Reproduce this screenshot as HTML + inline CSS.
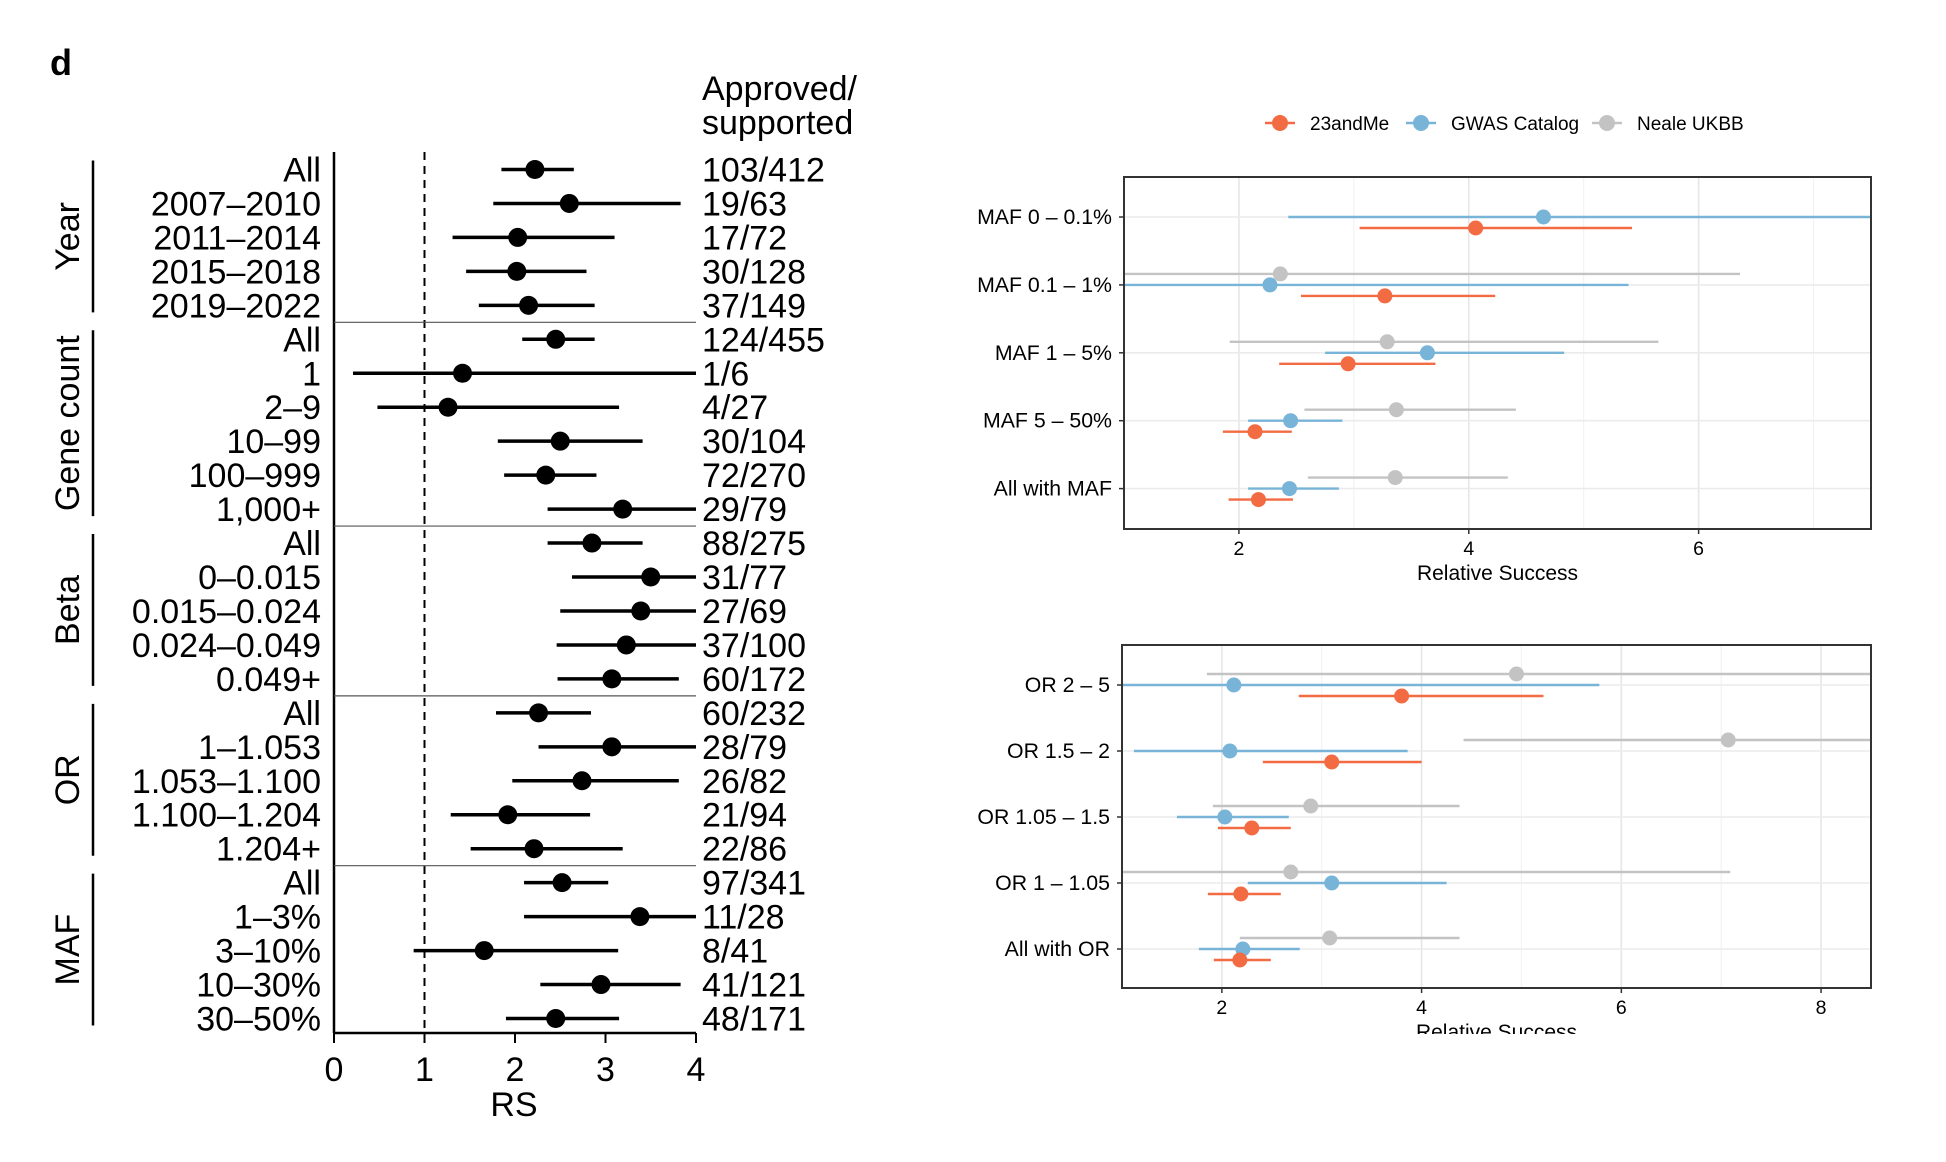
<!DOCTYPE html>
<html><head><meta charset="utf-8"><style>
html,body{margin:0;padding:0;background:#fff;}
svg{display:block;font-family:"Liberation Sans",Arial,sans-serif;}
</style></head><body>
<svg id="fig" width="1946" height="1162" viewBox="0 0 1946 1162" xmlns="http://www.w3.org/2000/svg">
<text x="50" y="75" font-size="36" font-weight="bold">d</text>
<g id="left"></g>
<g id="legend"></g>
<g id="top"></g>
<g id="bot"></g>
</svg>
<script>
// ---------- Left forest plot data ----------
const leftLabels = ["All","2007–2010","2011–2014","2015–2018","2019–2022","All","1","2–9","10–99","100–999","1,000+","All","0–0.015","0.015–0.024","0.024–0.049","0.049+","All","1–1.053","1.053–1.100","1.100–1.204","1.204+","All","1–3%","3–10%","10–30%","30–50%"];
const leftCounts = ["103/412","19/63","17/72","30/128","37/149","124/455","1/6","4/27","30/104","72/270","29/79","88/275","31/77","27/69","37/100","60/172","60/232","28/79","26/82","21/94","22/86","97/341","11/28","8/41","41/121","48/171"];
const leftRS = [2.22,2.6,2.03,2.02,2.15,2.45,1.42,1.26,2.5,2.34,3.19,2.85,3.5,3.39,3.23,3.07,2.26,3.07,2.74,1.92,2.21,2.52,3.38,1.66,2.95,2.45];
const leftLo = [1.85,1.76,1.31,1.46,1.6,2.08,0.21,0.48,1.81,1.88,2.36,2.36,2.63,2.5,2.46,2.47,1.79,2.26,1.97,1.29,1.51,2.1,2.1,0.88,2.28,1.9];
const leftHi = [2.65,3.83,3.1,2.79,2.88,2.88,4.5,3.15,3.41,2.9,4.5,3.41,4.5,4.5,4.5,3.81,2.84,4.5,3.81,2.83,3.19,3.03,4.5,3.14,3.83,3.15];
const groupNames = ["Year","Gene count","Beta","OR","MAF"];
const groupStarts = [0,5,11,16,21];
const groupEnds = [4,10,15,20,25];
const leftTicks = [0,1,2,3,4];

// ---------- Right panel data ----------
const series = ["23andMe","GWAS Catalog","Neale UKBB"];
const mafCats = ["MAF 0 – 0.1%","MAF 0.1 – 1%","MAF 1 – 5%","MAF 5 – 50%","All with MAF"];
const maf23 = [4.06,3.27,2.95,2.14,2.17];
const maf23Lo = [3.05,2.54,2.35,1.86,1.91];
const maf23Hi = [5.42,4.23,3.71,2.46,2.47];
const mafGW = [4.65,2.27,3.64,2.45,2.44];
const mafGWLo = [2.43,0.5,2.75,2.08,2.08];
const mafGWHi = [9,5.39,4.83,2.9,2.87];
const mafNE = [null,2.36,3.29,3.37,3.36];
const mafNELo = [null,0.5,1.92,2.57,2.6];
const mafNEHi = [null,6.36,5.65,4.41,4.34];
const mafTicks = [2,4,6];

const orCats = ["OR 2 – 5","OR 1.5 – 2","OR 1.05 – 1.5","OR 1 – 1.05","All with OR"];
const or23 = [3.8,3.1,2.3,2.19,2.18];
const or23Lo = [2.77,2.41,1.96,1.86,1.92];
const or23Hi = [5.22,4.0,2.69,2.59,2.49];
const orGW = [2.12,2.08,2.03,3.1,2.21];
const orGWLo = [0.5,1.12,1.55,2.26,1.77];
const orGWHi = [5.78,3.86,2.67,4.25,2.78];
const orNE = [4.95,7.07,2.89,2.69,3.08];
const orNELo = [1.85,4.42,1.91,0.5,2.18];
const orNEHi = [10,10,4.38,7.09,4.38];
const orTicks = [2,4,6,8];

const NS="http://www.w3.org/2000/svg";
function mk(tag, attrs, parent){const e=document.createElementNS(NS,tag);for(const k in attrs)e.setAttribute(k,attrs[k]);parent.appendChild(e);return e;}

// ----- left -----
(function(){
  const g=document.getElementById('left');
  const x0=334, x1=696, dmax=4, FS=34, AXB=1033;
  const xs=v=>x0+(Math.min(v,dmax))/dmax*(x1-x0);
  const ys=i=>169.5+i*33.96;
  let ax=mk('line',{x1:x0,y1:152,x2:x0,y2:AXB,stroke:'#000','stroke-width':2.5},g);
  
  let bx=mk('line',{x1:x0-1,y1:AXB,x2:x1,y2:AXB,stroke:'#000','stroke-width':2.5},g);
  
  let dl=mk('line',{x1:xs(1),y1:152,x2:xs(1),y2:AXB,stroke:'#000','stroke-width':2,'stroke-dasharray':'8,6'},g);
  
  leftTicks.forEach(t=>{
    let tk=mk('line',{x1:xs(t),y1:AXB,x2:xs(t),y2:AXB+10,stroke:'#000','stroke-width':2},g);
    
    let tl=mk('text',{x:xs(t),y:1081,'font-size':FS,'text-anchor':'middle'},g);tl.textContent=t;
    
  });
  let xt=mk('text',{x:514,y:1116,'font-size':FS,'text-anchor':'middle'},g);xt.textContent='RS';
  
  let h1=mk('text',{x:702,y:100,'font-size':FS},g);h1.textContent='Approved/';
  
  let h2=mk('text',{x:702,y:134,'font-size':FS},g);h2.textContent='supported';
  
  leftLabels.forEach((lab,i)=>{
    const y=ys(i);
    let t=mk('text',{x:321,y:y+12,'font-size':FS,'text-anchor':'end'},g);t.textContent=lab;
    
    let c=mk('text',{x:702,y:y+12,'font-size':FS},g);c.textContent=leftCounts[i];
    
    let l=mk('line',{x1:xs(Math.max(leftLo[i],0)),y1:y,x2:xs(leftHi[i]),y2:y,stroke:'#000','stroke-width':3.5},g);
    
    let d=mk('circle',{cx:xs(leftRS[i]),cy:y,r:9.5,fill:'#000'},g);
    
  });
  groupNames.forEach((n,k)=>{
    const ya=ys(groupStarts[k])-9, yb=ys(groupEnds[k])+7;
    let vl=mk('line',{x1:93,y1:ya,x2:93,y2:yb,stroke:'#000','stroke-width':2.5},g);
    
    const ym=(ya+yb)/2;
    let t=mk('text',{x:0,y:0,'font-size':FS,'text-anchor':'middle',transform:`translate(79,${ym}) rotate(-90)`},g);t.textContent=n;
    
    if(k<groupNames.length-1){
      const ysep=(ys(groupEnds[k])+ys(groupStarts[k+1]))/2;
      let s=mk('line',{x1:x0,y1:ysep,x2:x1,y2:ysep,stroke:'#555','stroke-width':1.2},g);
      
    }
  });
})();

const COLORS=['#f26b43','#78b3d8','#c3c3c3'];

// ----- legend -----
(function(){
  const g=document.getElementById('legend');
  const xs=[1265,1406,1592];
  series.forEach((s,i)=>{
    let l=mk('line',{x1:xs[i],y1:123,x2:xs[i]+30,y2:123,stroke:COLORS[i],'stroke-width':2.5},g);
    
    let c=mk('circle',{cx:xs[i]+15,cy:123,r:8,fill:COLORS[i]},g);
    
    let t=mk('text',{x:xs[i]+45,y:130,'font-size':19},g);t.textContent=s;
    
  });
})();

function panel(id, cats, vals, box, dom, ticks, rowY, clipBottom, off){
  const g=document.getElementById(id);
  const [L,T,R,B]=box;
  const xs=v=>L+(v-dom[0])/(dom[1]-dom[0])*(R-L);
  const cid='clip'+id;
  const cp=mk('clipPath',{id:cid},g);mk('rect',{x:L,y:T,width:R-L,height:B-T},cp);
  const inner=mk('g',{'clip-path':`url(#${cid})`},g);
  for(let v=Math.ceil(dom[0]);v<=dom[1];v++){
    let gl=mk('line',{x1:xs(v),y1:T,x2:xs(v),y2:B,stroke:v%2===0?'#e6e6e6':'#f1f1f1','stroke-width':v%2===0?1.6:1},inner);
    
  }
  cats.forEach((c,i)=>{
    let gl=mk('line',{x1:L,y1:rowY(i),x2:R,y2:rowY(i),stroke:'#ebebeb','stroke-width':1.6},inner);
    
  });
  const order=[2,1,0], offs=[off,0,-off];
  order.forEach(s=>{
    const [m,lo,hi]=vals[s];
    cats.forEach((c,i)=>{
      if(m[i]==null)return;
      const y=rowY(i)+offs[s];
      let l=mk('line',{x1:xs(lo[i]),y1:y,x2:xs(hi[i]),y2:y,stroke:COLORS[s],'stroke-width':2.4},inner);
      
      let d=mk('circle',{cx:xs(m[i]),cy:y,r:7.5,fill:COLORS[s]},inner);
      
    });
  });
  let bx=mk('rect',{x:L,y:T,width:R-L,height:B-T,fill:'none',stroke:'#333','stroke-width':2},g);
  
  cats.forEach((c,i)=>{
    let t=mk('text',{x:L-12,y:rowY(i)+7,'font-size':21.3,'text-anchor':'end'},g);t.textContent=c;
    
    let tk=mk('line',{x1:L-5,y1:rowY(i),x2:L,y2:rowY(i),stroke:'#333','stroke-width':1.5},g);
    
  });
  ticks.forEach(t=>{
    let tk=mk('line',{x1:xs(t),y1:B,x2:xs(t),y2:B+5,stroke:'#333','stroke-width':1.5},g);
    
    let tl=mk('text',{x:xs(t),y:B+26,'font-size':19.5,'text-anchor':'middle'},g);tl.textContent=t;
    
  });
  const cp2=mk('clipPath',{id:cid+'t'},g);mk('rect',{x:L,y:0,width:R-L,height:clipBottom},cp2);
  let xt=mk('text',{x:(L+R)/2,y:B+51,'font-size':21,'text-anchor':'middle','clip-path':`url(#${cid}t)`},g);xt.textContent='Relative Success';
  
}
panel('top',mafCats,[[maf23,maf23Lo,maf23Hi],[mafGW,mafGWLo,mafGWHi],[mafNE,mafNELo,mafNEHi]],[1124,177,1871,529],[1,7.5],mafTicks,i=>217+i*67.9,1162,11);
panel('bot',orCats,[[or23,or23Lo,or23Hi],[orGW,orGWLo,orGWHi],[orNE,orNELo,orNEHi]],[1122,645,1871,988],[1,8.5],orTicks,i=>685+i*66,1034,11);
</script>
</body></html>
